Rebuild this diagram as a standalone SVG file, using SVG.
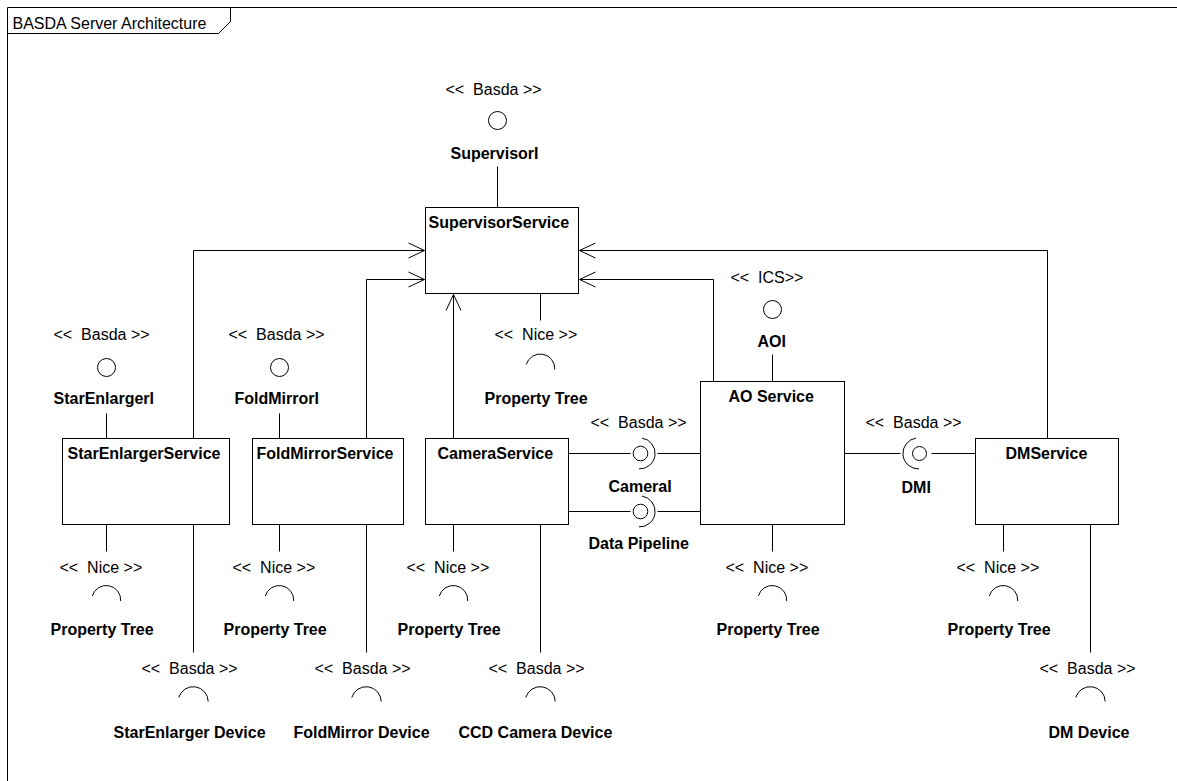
<svg xmlns="http://www.w3.org/2000/svg" width="1177" height="781" viewBox="0 0 1177 781">
  <style>
    .ln { fill: none; stroke: #000; stroke-width: 1; }
    .box { fill: #fff; stroke: #000; stroke-width: 1; }
    .ball { fill: #fff; stroke: #000; stroke-width: 1; }
    .st { font-family: "Liberation Sans", Arial, sans-serif; font-size: 16px; fill: #000; white-space: pre; }
    .nm { font-family: "Liberation Sans", Arial, sans-serif; font-size: 16px; font-weight: bold; fill: #000; white-space: pre; }
  </style>
  <defs>
    <marker id="open" viewBox="-18 -9 20 18" refX="0" refY="0" markerWidth="20" markerHeight="18" markerUnits="userSpaceOnUse" orient="auto">
      <path d="M -16,-7.5 L 0,0 L -16,7.5" fill="none" stroke="#000" stroke-width="1"/>
    </marker>
  </defs>
  <rect width="1177" height="781" fill="#fff"/>
  <g transform="translate(0.5,0.5)">
    <!-- frame with title tab -->
    <g id="frame">
      <path class="ln" d="M7,781 V7 H1177"/>
      <path class="ln" d="M7,33 H218 L230,21 V7"/>
      <text class="st" x="12" y="28">BASDA Server Architecture</text>
    </g>

    <!-- dependency and assembly connectors -->
    <g id="connectors">
      <path class="ln" d="M193,438 V250 H424" marker-end="url(#open)"/>
      <path class="ln" d="M366,438 V279 H424" marker-end="url(#open)"/>
      <path class="ln" d="M453,438 V294" marker-end="url(#open)"/>
      <path class="ln" d="M713,381 V279 H579" marker-end="url(#open)"/>
      <path class="ln" d="M1047,438 V250 H579" marker-end="url(#open)"/>

      <!-- CameraService to AO Service: CameraI -->
      <path class="ln" d="M568,453 H630"/>
      <path class="ln" d="M657,453 H700"/>
      <!-- CameraService to AO Service: Data Pipeline -->
      <path class="ln" d="M568,511 H630"/>
      <path class="ln" d="M657,511 H700"/>
      <!-- AO Service to DMService: DMI -->
      <path class="ln" d="M844,453 H900"/>
      <path class="ln" d="M931,453 H975"/>

      <!-- interface stems -->
      <path class="ln" d="M497,166 V207"/>
      <path class="ln" d="M540,293 V320"/>
      <path class="ln" d="M106,413 V438"/>
      <path class="ln" d="M279,413 V438"/>
      <path class="ln" d="M772,354 V381"/>
      <path class="ln" d="M106,524 V551"/>
      <path class="ln" d="M193,524 V652"/>
      <path class="ln" d="M279,524 V551"/>
      <path class="ln" d="M366,524 V652"/>
      <path class="ln" d="M453,524 V551"/>
      <path class="ln" d="M540,524 V652"/>
      <path class="ln" d="M772,524 V551"/>
      <path class="ln" d="M1003,524 V551"/>
      <path class="ln" d="M1090,524 V652"/>
    </g>

    <!-- components -->
    <g id="supervisor-service">
      <rect class="box" x="425" y="207" width="153" height="86"/>
      <text class="nm" x="428" y="227">SupervisorService</text>
    </g>
    <g id="starenlarger-service">
      <rect class="box" x="62" y="438" width="167" height="86"/>
      <text class="nm" x="67" y="458">StarEnlargerService</text>
    </g>
    <g id="foldmirror-service">
      <rect class="box" x="252" y="438" width="151" height="86"/>
      <text class="nm" x="256" y="458">FoldMirrorService</text>
    </g>
    <g id="camera-service">
      <rect class="box" x="425" y="438" width="143" height="86"/>
      <text class="nm" x="437" y="458">CameraService</text>
    </g>
    <g id="ao-service">
      <rect class="box" x="700" y="381" width="144" height="143"/>
      <text class="nm" x="728" y="401">AO Service</text>
    </g>
    <g id="dm-service">
      <rect class="box" x="975" y="438" width="143" height="86"/>
      <text class="nm" x="1005" y="458">DMService</text>
    </g>

    <!-- provided interfaces -->
    <g id="supervisor-i">
      <text class="st" x="445" y="94">&lt;&lt;  Basda &gt;&gt;</text>
      <circle class="ball" cx="497" cy="120" r="9"/>
      <text class="nm" x="450" y="158">SupervisorI</text>
    </g>
    <g id="starenlarger-i">
      <text class="st" x="53" y="339">&lt;&lt;  Basda &gt;&gt;</text>
      <circle class="ball" cx="106" cy="367" r="9"/>
      <text class="nm" x="53" y="403">StarEnlargerI</text>
    </g>
    <g id="foldmirror-i">
      <text class="st" x="228" y="339">&lt;&lt;  Basda &gt;&gt;</text>
      <circle class="ball" cx="279" cy="367" r="9"/>
      <text class="nm" x="234" y="403">FoldMirrorI</text>
    </g>
    <g id="ao-i">
      <text class="st" x="730" y="282">&lt;&lt;  ICS&gt;&gt;</text>
      <circle class="ball" cx="772" cy="309" r="9"/>
      <text class="nm" x="757" y="346">AOI</text>
    </g>

    <!-- assembly connectors (ball and socket) -->
    <g id="camera-i">
      <text class="st" x="590" y="427">&lt;&lt;  Basda &gt;&gt;</text>
      <circle class="ball" cx="640" cy="453" r="7.3"/>
      <path class="ln" d="M641.5,437.6 A15.5 15.5 0 0 1 638.5,468.4"/>
      <text class="nm" x="608" y="491">CameraI</text>
    </g>
    <g id="data-pipeline">
      <circle class="ball" cx="640" cy="511" r="7.3"/>
      <path class="ln" d="M641.5,495.6 A15.5 15.5 0 0 1 638.5,526.4"/>
      <text class="nm" x="588" y="548">Data Pipeline</text>
    </g>
    <g id="dm-i">
      <text class="st" x="865" y="427">&lt;&lt;  Basda &gt;&gt;</text>
      <circle class="ball" cx="919" cy="453" r="7"/>
      <path class="ln" d="M915.5,437.6 A15.5 15.5 0 0 0 918.5,468.4"/>
      <text class="nm" x="901" y="492">DMI</text>
    </g>

    <!-- required interfaces (sockets) -->
    <g id="supervisor-property-tree">
      <text class="st" x="494" y="339">&lt;&lt;  Nice &gt;&gt;</text>
      <path class="ln" d="M525.8,364 A14.5 14.5 0 0 1 554.2,369"/>
      <text class="nm" x="484" y="403">Property Tree</text>
    </g>
    <g id="starenlarger-property-tree">
      <text class="st" x="59" y="572">&lt;&lt;  Nice &gt;&gt;</text>
      <path class="ln" d="M91.8,595.5 A14.5 14.5 0 0 1 120.2,600.5"/>
      <text class="nm" x="50" y="634">Property Tree</text>
    </g>
    <g id="foldmirror-property-tree">
      <text class="st" x="232" y="572">&lt;&lt;  Nice &gt;&gt;</text>
      <path class="ln" d="M264.8,595.5 A14.5 14.5 0 0 1 293.2,600.5"/>
      <text class="nm" x="223" y="634">Property Tree</text>
    </g>
    <g id="camera-property-tree">
      <text class="st" x="406" y="572">&lt;&lt;  Nice &gt;&gt;</text>
      <path class="ln" d="M438.8,595.5 A14.5 14.5 0 0 1 467.2,600.5"/>
      <text class="nm" x="397" y="634">Property Tree</text>
    </g>
    <g id="ao-property-tree">
      <text class="st" x="725" y="572">&lt;&lt;  Nice &gt;&gt;</text>
      <path class="ln" d="M757.8,595.5 A14.5 14.5 0 0 1 786.2,600.5"/>
      <text class="nm" x="716" y="634">Property Tree</text>
    </g>
    <g id="dm-property-tree">
      <text class="st" x="956" y="572">&lt;&lt;  Nice &gt;&gt;</text>
      <path class="ln" d="M988.8,595.5 A14.5 14.5 0 0 1 1017.2,600.5"/>
      <text class="nm" x="947" y="634">Property Tree</text>
    </g>

    <g id="starenlarger-device">
      <text class="st" x="141" y="673">&lt;&lt;  Basda &gt;&gt;</text>
      <path class="ln" d="M178.3,697 A15 15 0 0 1 207.7,701"/>
      <text class="nm" x="113" y="737">StarEnlarger Device</text>
    </g>
    <g id="foldmirror-device">
      <text class="st" x="314" y="673">&lt;&lt;  Basda &gt;&gt;</text>
      <path class="ln" d="M351.3,697 A15 15 0 0 1 380.7,701"/>
      <text class="nm" x="293" y="737">FoldMirror Device</text>
    </g>
    <g id="ccd-camera-device">
      <text class="st" x="488" y="673">&lt;&lt;  Basda &gt;&gt;</text>
      <path class="ln" d="M525.3,697 A15 15 0 0 1 554.7,701"/>
      <text class="nm" x="458" y="737">CCD Camera Device</text>
    </g>
    <g id="dm-device">
      <text class="st" x="1039" y="673">&lt;&lt;  Basda &gt;&gt;</text>
      <path class="ln" d="M1075.3,697 A15 15 0 0 1 1104.7,701"/>
      <text class="nm" x="1048" y="737">DM Device</text>
    </g>
  </g>
</svg>
